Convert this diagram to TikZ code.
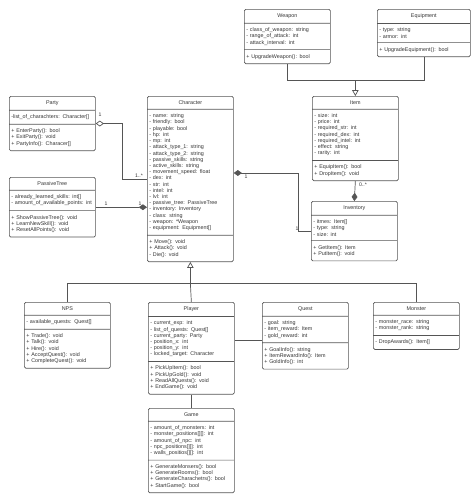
\documentclass[tikz,border=0pt]{standalone}
\usepackage{fontspec}
\setmainfont{Liberation Sans}
\usetikzlibrary{shapes.multipart,arrows.meta}
\definecolor{umlline}{HTML}{555555}
\definecolor{umltext}{HTML}{333333}
\tikzset{
  cls/.style={rectangle split, rectangle split parts=3, draw=umlline, line width=0.6pt,
    rounded corners=1.2pt, anchor=north west, text width=2.46cm, align=left,
    inner xsep=0.06cm, inner ysep=0.125cm, text=umltext, font=\fontsize{4.6}{5.3}\selectfont},
  link/.style={draw=umlline, line width=0.6pt},
  inherit/.style={link, -{Triangle[open,length=5pt,width=5.5pt]}},
  aggr/.style={link, {Diamond[open,length=7pt,width=5pt]}-},
  compo/.style={link, {Diamond[length=7pt,width=5pt]}-},
  mult/.style={text=umltext, inner sep=0.5pt, font=\fontsize{4.4}{5}\selectfont}
}
\newcommand{\clsname}[1]{\hfil #1\hfil}
\begin{document}
\begin{tikzpicture}[x=0.03cm,y=-0.03cm]
\useasboundingbox (0,0) rectangle (474,502);
%% nodes
\node[cls] (Weapon) at (244,9) {\clsname{Weapon}
  \nodepart{two}- class\_of\_weapon: string\\- range\_of\_attack: int\\- attack\_interval: int
  \nodepart{three}+ UpgradeWeapon(): bool};
\node[cls, text width=2.67cm] (Equip) at (377,9) {\clsname{Equipment}
  \nodepart{two}- type: string\\- armor: int
  \nodepart{three}+ UpgradeEquipment(): bool};
\node[cls] (Party) at (9,96) {\clsname{Party}
  \nodepart{two}-list\_of\_charachters: Character[]
  \nodepart{three}+ EnterParty(): bool\\+ ExitParty(): void\\+ PartyInfo(): Characer[]\par\vspace{4pt}};
\node[cls] (Char) at (147,96) {\clsname{Character}
  \nodepart{two}- name: string\\- friendly: bool\\- playable: bool\\- hp: int\\- mp: int\\
  - attack\_type\_1: string\\- attack\_type\_2: string\\- passive\_skills: string\\
  - active\_skills: string\\- movement\_speed: float\\- dex: int\\- str: int\\- intel: int\\
  - lvl: int\\- passive\_tree: PassiveTree\\- inventory: Inventory\\- class: string\\
  - weapon: *Weapon\\- equipment: Equipment[]
  \nodepart{three}+ Move(): void\\+ Attack(): void\\- Die(): void};
\node[cls] (Item) at (312,96) {\clsname{Item}
  \nodepart{two}- size: int\\- price: int\\- required\_str: int\\- required\_dex: int\\
  - required\_intel: int\\- effect: string\\- rarity: int
  \nodepart{three}+ EquipItem(): bool\\+ DropItem(): void};
\node[cls] (PTree) at (9,177) {\clsname{PassiveTree}
  \nodepart{two}- already\_learned\_skills: int[]\\- amount\_of\_available\_points: int
  \nodepart{three}+ ShowPassiveTree(): void\\+ LearnNewSkill(): void\\+ ResetAllPoints(): void};
\node[cls] (Inv) at (311,201) {\clsname{Inventory}
  \nodepart{two}- itmes: Item[]\\- type: string\\- size: int
  \nodepart{three}+ GetItem(): Item\\+ PutItem(): void};
\node[cls] (NPS) at (24,302) {\clsname{NPS}
  \nodepart{two}- available\_quests: Quest[]
  \nodepart{three}+ Trade(): void\\+ Talk(): void\\+ Hire(): void\\+ AcceptQuest(): void\\+ CompleteQuest(): void};
\node[cls] (Player) at (148,302) {\clsname{Player}
  \nodepart{two}- current\_exp: int\\- list\_of\_quests: Quest[]\\- current\_party: Party\\
  - position\_x: int\\- position\_y: int\\- locked\_target: Character
  \nodepart{three}+ PickUpItem(): bool\\+ PickUpGold(): void\\+ ReadAllQuests(): void\\+ EndGame(): void};
\node[cls] (Quest) at (262,302) {\clsname{Quest}
  \nodepart{two}- goal: string\\- item\_reward: Item\\- gold\_reward: int
  \nodepart{three}+ GoalInfo(): string\\+ ItemRewardInfo(): Item\\+ GoldInfo(): int\par\vspace{4pt}};
\node[cls] (Monster) at (373,302) {\clsname{Monster}
  \nodepart{two}- monster\_race: string\\- monster\_rank: string
  \nodepart{three}- DropAwards(): Item[]};
\node[cls] (Game) at (148,408) {\clsname{Game}
  \nodepart{two}- amount\_of\_monsters: int\\- monster\_positions[][]: int\\- amount\_of\_npc: int\\
  - npc\_positions[][]: int\\- walls\_positios[][]: int
  \nodepart{three}+ GenerateMonsers(): bool\\+ GenerateRooms(): bool\\+ GenerateCharachetrs(): bool\\+ StartGame(): bool};
%% bends
\coordinate (wjoin) at (Item.north |- 0,80);
\coordinate (pbend) at (122,179);
\coordinate (ibend) at (298,173);
\coordinate (gjoin) at (Char.south |- 0,283);
\coordinate (pq) at (248,340);
%%% edges
\draw[link] (Weapon.south) |- (wjoin);
\draw[link] (Equip.south) |- (wjoin);
\draw[inherit] (wjoin) -- (Item.north);
\draw[aggr] (Party.east) -| (pbend) -- (Char.west |- pbend);
\draw[compo] (Char.west |- PTree.east) -- (PTree.east);
\draw[compo] (Char.east |- ibend) -- (ibend) |- (Inv.west);
\draw[compo] (Inv.north) -- (Item.south);
\draw[inherit] (gjoin) -- (Char.south);
\draw[link] (NPS.north) |- (gjoin);
\draw[link] (Monster.north) |- (gjoin);
\draw[link] (Player.north) -- (gjoin);
\draw[link] (Player.east |- pq) -- (Quest.west |- pq);
\draw[link] (Player.south) -- (Game.north);
%% multiplicities
\node[mult] (m1) at (100,115) {1};
\node[mult] (m2) at (139,176) {1..*};
\node[mult] (m3) at (106,204) {1};
\node[mult] (m4) at (140,204) {1};
\node[mult] (m5) at (246,177) {1};
\node[mult] (m6) at (297,229) {1};
\node[mult] (m7) at (363,185) {0..*};
\end{tikzpicture}
\end{document}
